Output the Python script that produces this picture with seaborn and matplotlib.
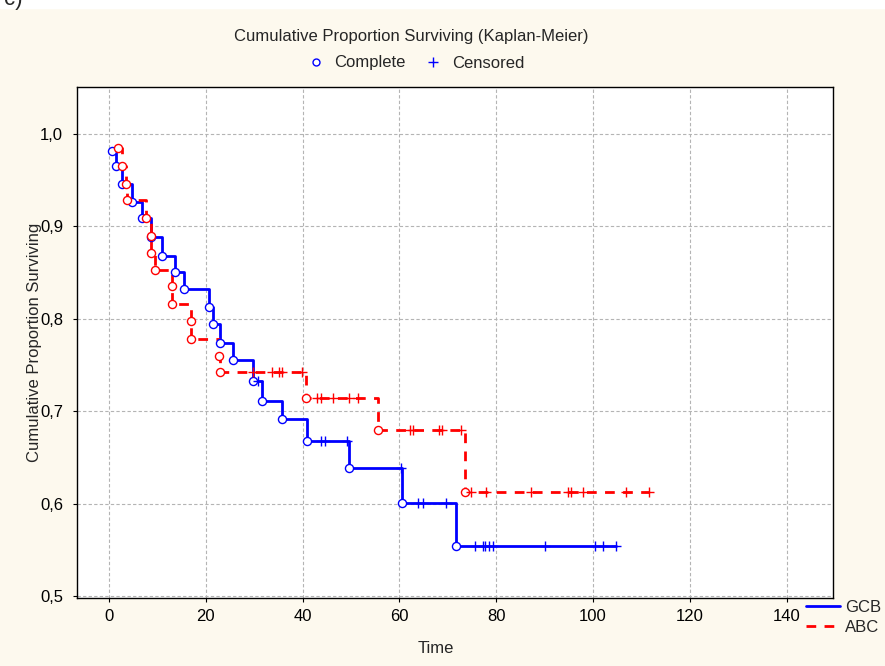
import numpy as np
import pandas as pd
import matplotlib
matplotlib.use("Agg")
import matplotlib.pyplot as plt
from matplotlib.lines import Line2D
from matplotlib.patches import Rectangle
import seaborn as sns

# GCB (blue, solid) - complete events and censored times
gcb_event_times = [0.7, 1.4, 2.6, 4.8, 6.9, 8.7, 10.9, 13.6, 15.5, 20.7, 21.4,
                   22.9, 25.6, 29.8, 31.7, 35.8, 40.9, 49.6, 60.5, 71.7]
gcb_event_surv = [0.982, 0.965, 0.946, 0.926, 0.909, 0.889, 0.868, 0.851, 0.832,
                  0.813, 0.794, 0.774, 0.755, 0.733, 0.711, 0.692, 0.668, 0.638,
                  0.601, 0.554]
gcb_censored_times = [30.8, 43.9, 44.6, 49.1, 60.3, 63.8, 64.9, 69.6, 75.6, 77.2,
                      77.7, 78.6, 79.4, 90.1, 100.4, 102.1, 104.8]

# ABC (red, dashed)
abc_event_times = [1.8, 2.6, 3.5, 3.7, 7.6, 8.6, 8.6, 9.5, 13.0, 13.0, 16.9, 16.9,
                   22.8, 22.9, 40.8, 55.6, 73.6]
abc_event_surv = [0.985, 0.965, 0.946, 0.929, 0.909, 0.890, 0.871, 0.853, 0.835,
                  0.816, 0.798, 0.778, 0.760, 0.742, 0.714, 0.680, 0.612]
abc_censored_times = [29.8, 33.6, 35.1, 35.8, 39.9, 43.0, 43.9, 46.3, 49.6, 51.4,
                      62.3, 62.9, 68.2, 68.8, 72.8, 74.9, 77.9, 87.3, 94.9, 95.5,
                      97.9, 106.8, 111.6]

x_ticks = [0, 20, 40, 60, 80, 100, 120, 140]
y_ticks = [0.5, 0.6, 0.7, 0.8, 0.9, 1.0]
y_tick_labels = ["0,5", "0,6", "0,7", "0,8", "0,9", "1,0"]


def km_frame(ev_t, ev_s, cens_t):
    ev_t = np.array(ev_t)
    ev_s = np.array(ev_s)
    idx = np.searchsorted(ev_t, cens_t, side="right") - 1
    ev = pd.DataFrame({"time": ev_t, "surv": ev_s, "kind": "Complete"})
    ce = pd.DataFrame({"time": cens_t, "surv": ev_s[idx], "kind": "Censored"})
    df = pd.concat([ev, ce], ignore_index=True)
    return df.sort_values("time", kind="stable").reset_index(drop=True)


gcb = km_frame(gcb_event_times, gcb_event_surv, gcb_censored_times)
abc = km_frame(abc_event_times, abc_event_surv, abc_censored_times)

sns.set_style("ticks")
plt.rcParams["font.family"] = ["Liberation Sans", "DejaVu Sans"]

cream = "#fdf9ee"
fig = plt.figure(figsize=(8.85, 6.66), dpi=100, facecolor=cream)
fig.patches.append(Rectangle((0, 1 - 8 / 666), 1, 8 / 666, transform=fig.transFigure,
                             color="white", zorder=0))
fig.text(0.004, 1.0, "c)", fontsize=16, va="center", ha="left", zorder=2)

ax = fig.add_axes([77 / 885, 1 - 598 / 666, 756 / 885, 511 / 666])
ax.set_facecolor("white")

blue = "#0000ff"
red = "#ff0000"

sns.lineplot(data=gcb, x="time", y="surv", estimator=None, sort=False, ax=ax,
             color=blue, linewidth=2.0, drawstyle="steps-post", zorder=3)
sns.lineplot(data=abc, x="time", y="surv", estimator=None, sort=False, ax=ax,
             color=red, linewidth=2.0, drawstyle="steps-post", zorder=3)
ax.lines[-1].set_dashes((3.5, 3))

for df, c in [(gcb, blue), (abc, red)]:
    comp = df[df["kind"] == "Complete"]
    cens = df[df["kind"] == "Censored"]
    sns.scatterplot(data=comp, x="time", y="surv", marker="o", s=34,
                    facecolor="white", edgecolor=c, linewidth=1.0, ax=ax, zorder=4)
    sns.scatterplot(data=cens, x="time", y="surv", marker="+", s=55,
                    color=c, linewidth=1.0, ax=ax, zorder=4)

ax.set_xlim(-6.6, 149.6)
ax.set_ylim(0.4978, 1.0509)
ax.set_xticks(x_ticks)
ax.set_yticks(y_ticks)
ax.set_yticklabels(y_tick_labels)
ax.tick_params(direction="out", length=3, width=0.8, pad=5, labelsize=12,
               colors="black")
ax.tick_params(axis="y", pad=7)
ax.grid(True, color="#b4b4b4", linestyle=(0, (3, 2)), linewidth=0.8)
for s in ax.spines.values():
    s.set_visible(True)
    s.set_color("black")
    s.set_linewidth(1.0)

ax.set_xlabel("Time", fontsize=12)
ax.set_ylabel("Cumulative Proportion Surviving", fontsize=12)
ax.xaxis.set_label_coords((436 - 77) / 756, (598 - 641) / 511)
ax.yaxis.set_label_coords((42 - 77) / 756, 0.5)

fig.text(411 / 885, 1 - 36 / 666, "Cumulative Proportion Surviving (Kaplan-Meier)",
         ha="center", va="center", fontsize=12)

top_handles = [
    Line2D([], [], marker="o", ls="", mfc="white", mec=blue, mew=1.0, ms=5),
    Line2D([], [], marker="+", ls="", color=blue, mew=1.0, ms=7),
]
fig.legend(top_handles, ["Complete", "Censored"], ncol=2, frameon=False,
           loc="center", bbox_to_anchor=(416 / 885, 1 - 63 / 666),
           fontsize=12, handlelength=1.0, handletextpad=0.6, columnspacing=1.15)

grp_handles = [
    Line2D([], [], color=blue, lw=2.0),
    Line2D([], [], color=red, lw=2.0, dashes=(3.5, 3)),
]
fig.legend(grp_handles, ["GCB", "ABC"], frameon=False, loc="upper left",
           bbox_to_anchor=(793 / 885, 1 - 587 / 666), fontsize=12,
           handlelength=2.0, handletextpad=0.3, labelspacing=0.3,
           borderpad=0.3)

fig.savefig("out.png", dpi=100, facecolor=cream)
